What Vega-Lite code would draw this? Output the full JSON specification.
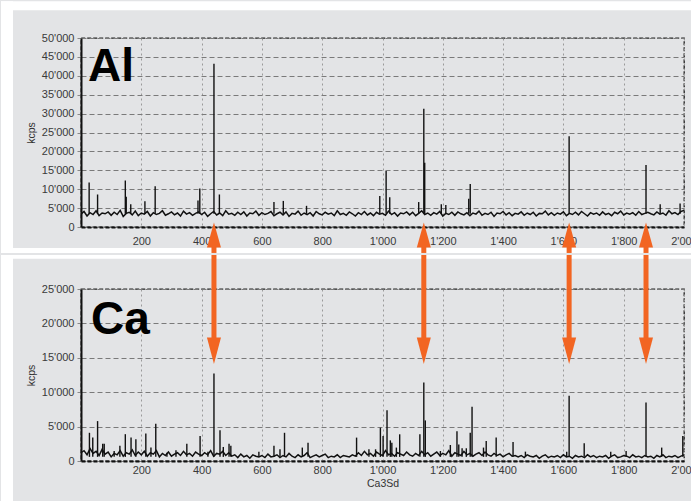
{
  "$schema": "https://vega.github.io/schema/vega-lite/v6.json",
  "padding": 0,
  "background": "#e3e4e6",
  "spacing": 0,
  "datasets": {
    "al": [
      {"x":0,"y":3400},{"x":10,"y":4100},{"x":20,"y":2900},{"x":30,"y":3800},{"x":40,"y":3300},{"x":50,"y":4300},{"x":60,"y":3000},{"x":70,"y":3700},{"x":80,"y":3500},{"x":90,"y":4000},
      {"x":100,"y":3100},{"x":110,"y":3900},{"x":120,"y":3300},{"x":130,"y":4400},{"x":140,"y":2800},{"x":150,"y":3600},{"x":160,"y":3900},{"x":170,"y":3200},{"x":180,"y":4200},{"x":190,"y":3000},
      {"x":200,"y":3700},{"x":210,"y":3400},{"x":220,"y":4100},{"x":230,"y":2900},{"x":240,"y":3800},{"x":250,"y":3300},{"x":260,"y":3600},{"x":270,"y":4300},{"x":280,"y":3100},{"x":290,"y":3500},
      {"x":300,"y":4000},{"x":310,"y":3200},{"x":320,"y":3700},{"x":330,"y":2900},{"x":340,"y":4200},{"x":350,"y":3400},{"x":360,"y":3800},{"x":370,"y":3100},{"x":380,"y":3600},{"x":390,"y":4000},
      {"x":400,"y":3300},{"x":410,"y":3900},{"x":420,"y":2800},{"x":430,"y":3500},{"x":440,"y":4100},{"x":450,"y":3200},{"x":460,"y":3700},{"x":470,"y":3000},{"x":480,"y":4300},{"x":490,"y":3400},
      {"x":500,"y":3600},{"x":510,"y":3100},{"x":520,"y":3900},{"x":530,"y":3300},{"x":540,"y":4000},{"x":550,"y":2900},{"x":560,"y":3700},{"x":570,"y":3500},{"x":580,"y":4200},{"x":590,"y":3100},
      {"x":600,"y":3800},{"x":610,"y":3300},{"x":620,"y":3600},{"x":630,"y":4100},{"x":640,"y":3000},{"x":650,"y":3500},{"x":660,"y":3900},{"x":670,"y":3200},{"x":680,"y":4000},{"x":690,"y":2800},
      {"x":700,"y":3600},{"x":710,"y":3400},{"x":720,"y":4200},{"x":730,"y":3100},{"x":740,"y":3700},{"x":750,"y":3300},{"x":760,"y":3800},{"x":770,"y":2900},{"x":780,"y":4100},{"x":790,"y":3500},
      {"x":800,"y":3200},{"x":810,"y":3900},{"x":820,"y":3400},{"x":830,"y":3700},{"x":840,"y":3000},{"x":850,"y":4300},{"x":860,"y":3300},{"x":870,"y":3600},{"x":880,"y":3100},{"x":890,"y":4000},
      {"x":900,"y":3500},{"x":910,"y":2900},{"x":920,"y":3800},{"x":930,"y":3300},{"x":940,"y":4100},{"x":950,"y":3200},{"x":960,"y":3700},{"x":970,"y":3000},{"x":980,"y":3900},{"x":990,"y":3400},
      {"x":1000,"y":3600},{"x":1010,"y":3100},{"x":1020,"y":4200},{"x":1030,"y":3300},{"x":1040,"y":3800},{"x":1050,"y":2900},{"x":1060,"y":3700},{"x":1070,"y":3500},{"x":1080,"y":4000},{"x":1090,"y":3200},
      {"x":1100,"y":3900},{"x":1110,"y":3000},{"x":1120,"y":3600},{"x":1130,"y":4300},{"x":1140,"y":3300},{"x":1150,"y":3700},{"x":1160,"y":3100},{"x":1170,"y":3800},{"x":1180,"y":3400},{"x":1190,"y":4100},
      {"x":1200,"y":2900},{"x":1210,"y":3600},{"x":1220,"y":3300},{"x":1230,"y":3900},{"x":1240,"y":3100},{"x":1250,"y":4000},{"x":1260,"y":3500},{"x":1270,"y":3200},{"x":1280,"y":3800},{"x":1290,"y":3000},
      {"x":1300,"y":3700},{"x":1310,"y":3400},{"x":1320,"y":4200},{"x":1330,"y":3100},{"x":1340,"y":3600},{"x":1350,"y":3300},{"x":1360,"y":3900},{"x":1370,"y":2800},{"x":1380,"y":3700},{"x":1390,"y":3500},
      {"x":1400,"y":4100},{"x":1410,"y":3200},{"x":1420,"y":3800},{"x":1430,"y":3000},{"x":1440,"y":3600},{"x":1450,"y":3400},{"x":1460,"y":4000},{"x":1470,"y":3100},{"x":1480,"y":3700},{"x":1490,"y":3300},
      {"x":1500,"y":3900},{"x":1510,"y":2900},{"x":1520,"y":3600},{"x":1530,"y":3500},{"x":1540,"y":4200},{"x":1550,"y":3200},{"x":1560,"y":3800},{"x":1570,"y":3100},{"x":1580,"y":3700},{"x":1590,"y":3400},
      {"x":1600,"y":4000},{"x":1610,"y":3000},{"x":1620,"y":3600},{"x":1630,"y":3300},{"x":1640,"y":3900},{"x":1650,"y":3200},{"x":1660,"y":4100},{"x":1670,"y":3500},{"x":1680,"y":2900},{"x":1690,"y":3800},
      {"x":1700,"y":3400},{"x":1710,"y":3700},{"x":1720,"y":3100},{"x":1730,"y":4000},{"x":1740,"y":3300},{"x":1750,"y":3600},{"x":1760,"y":3000},{"x":1770,"y":3900},{"x":1780,"y":3500},{"x":1790,"y":4200},
      {"x":1800,"y":3200},{"x":1810,"y":3700},{"x":1820,"y":3400},{"x":1830,"y":3800},{"x":1840,"y":3100},{"x":1850,"y":4100},{"x":1860,"y":3300},{"x":1870,"y":3600},{"x":1880,"y":3900},{"x":1890,"y":3500},
      {"x":1900,"y":3200},{"x":1910,"y":4000},{"x":1920,"y":3400},{"x":1930,"y":3700},{"x":1940,"y":3100},{"x":1950,"y":4300},{"x":1960,"y":3500},{"x":1970,"y":3800},{"x":1980,"y":3300},{"x":1990,"y":4100},
      {"x":2000,"y":4400}
    ],
    "ca": [
      {"x":0,"y":1200},{"x":10,"y":1500},{"x":20,"y":900},{"x":30,"y":1800},{"x":40,"y":1100},{"x":50,"y":1400},{"x":60,"y":800},{"x":70,"y":1700},{"x":80,"y":1000},{"x":90,"y":1300},
      {"x":100,"y":600},{"x":110,"y":1100},{"x":120,"y":900},{"x":130,"y":1500},{"x":140,"y":700},{"x":150,"y":1200},{"x":160,"y":1000},{"x":170,"y":1600},{"x":180,"y":800},{"x":190,"y":1300},
      {"x":200,"y":900},{"x":210,"y":1400},{"x":220,"y":700},{"x":230,"y":1200},{"x":240,"y":1000},{"x":250,"y":1500},{"x":260,"y":600},{"x":270,"y":1100},{"x":280,"y":800},{"x":290,"y":1300},
      {"x":300,"y":700},{"x":310,"y":1000},{"x":320,"y":1200},{"x":330,"y":800},{"x":340,"y":1400},{"x":350,"y":900},{"x":360,"y":1100},{"x":370,"y":700},{"x":380,"y":1300},{"x":390,"y":1000},
      {"x":400,"y":800},{"x":410,"y":1200},{"x":420,"y":900},{"x":430,"y":1500},{"x":440,"y":700},{"x":450,"y":1100},{"x":460,"y":1000},{"x":470,"y":1400},{"x":480,"y":800},{"x":490,"y":1200},
      {"x":500,"y":700},{"x":510,"y":900},{"x":520,"y":500},{"x":530,"y":1000},{"x":540,"y":600},{"x":550,"y":800},{"x":560,"y":400},{"x":570,"y":900},{"x":580,"y":700},{"x":590,"y":600},
      {"x":600,"y":800},{"x":610,"y":500},{"x":620,"y":1000},{"x":630,"y":600},{"x":640,"y":700},{"x":650,"y":900},{"x":660,"y":500},{"x":670,"y":800},{"x":680,"y":600},{"x":690,"y":1100},
      {"x":700,"y":700},{"x":710,"y":500},{"x":720,"y":900},{"x":730,"y":600},{"x":740,"y":800},{"x":750,"y":1200},{"x":760,"y":500},{"x":770,"y":700},{"x":780,"y":900},{"x":790,"y":600},
      {"x":800,"y":800},{"x":810,"y":1000},{"x":820,"y":500},{"x":830,"y":700},{"x":840,"y":600},{"x":850,"y":900},{"x":860,"y":500},{"x":870,"y":800},{"x":880,"y":700},{"x":890,"y":600},
      {"x":900,"y":900},{"x":910,"y":700},{"x":920,"y":1200},{"x":930,"y":800},{"x":940,"y":1400},{"x":950,"y":900},{"x":960,"y":1100},{"x":970,"y":700},{"x":980,"y":1300},{"x":990,"y":1000},
      {"x":1000,"y":800},{"x":1010,"y":1500},{"x":1020,"y":900},{"x":1030,"y":1100},{"x":1040,"y":700},{"x":1050,"y":1200},{"x":1060,"y":1000},{"x":1070,"y":800},{"x":1080,"y":1300},{"x":1090,"y":900},
      {"x":1100,"y":700},{"x":1110,"y":1100},{"x":1120,"y":800},{"x":1130,"y":1400},{"x":1140,"y":900},{"x":1150,"y":1200},{"x":1160,"y":700},{"x":1170,"y":1000},{"x":1180,"y":1300},{"x":1190,"y":800},
      {"x":1200,"y":1100},{"x":1210,"y":900},{"x":1220,"y":1500},{"x":1230,"y":700},{"x":1240,"y":1200},{"x":1250,"y":1000},{"x":1260,"y":800},{"x":1270,"y":1400},{"x":1280,"y":900},{"x":1290,"y":1100},
      {"x":1300,"y":700},{"x":1310,"y":1000},{"x":1320,"y":1200},{"x":1330,"y":800},{"x":1340,"y":1300},{"x":1350,"y":900},{"x":1360,"y":700},{"x":1370,"y":1100},{"x":1380,"y":800},{"x":1390,"y":1000},
      {"x":1400,"y":600},{"x":1410,"y":900},{"x":1420,"y":1100},{"x":1430,"y":700},{"x":1440,"y":800},{"x":1450,"y":600},{"x":1460,"y":800},{"x":1470,"y":500},{"x":1480,"y":900},{"x":1490,"y":700},
      {"x":1500,"y":600},{"x":1510,"y":800},{"x":1520,"y":400},{"x":1530,"y":700},{"x":1540,"y":900},{"x":1550,"y":500},{"x":1560,"y":700},{"x":1570,"y":600},{"x":1580,"y":800},{"x":1590,"y":500},
      {"x":1600,"y":900},{"x":1610,"y":600},{"x":1620,"y":700},{"x":1630,"y":400},{"x":1640,"y":800},{"x":1650,"y":600},{"x":1660,"y":700},{"x":1670,"y":500},{"x":1680,"y":900},{"x":1690,"y":600},
      {"x":1700,"y":800},{"x":1710,"y":500},{"x":1720,"y":700},{"x":1730,"y":600},{"x":1740,"y":800},{"x":1750,"y":400},{"x":1760,"y":700},{"x":1770,"y":900},{"x":1780,"y":500},{"x":1790,"y":600},
      {"x":1800,"y":800},{"x":1810,"y":700},{"x":1820,"y":500},{"x":1830,"y":900},{"x":1840,"y":600},{"x":1850,"y":700},{"x":1860,"y":500},{"x":1870,"y":800},{"x":1880,"y":600},{"x":1890,"y":700},
      {"x":1900,"y":400},{"x":1910,"y":800},{"x":1920,"y":600},{"x":1930,"y":900},{"x":1940,"y":500},{"x":1950,"y":700},{"x":1960,"y":600},{"x":1970,"y":800},{"x":1980,"y":500},{"x":1990,"y":700},
      {"x":2000,"y":900}
    ],
    "alpk": [
      {"x":27,"y":11800},{"x":55,"y":8600},{"x":147,"y":12300},{"x":150,"y":8000},{"x":165,"y":6000},{"x":212,"y":6800},{"x":246,"y":10800},{"x":388,"y":7000},{"x":394,"y":10200},{"x":441,"y":43200},{"x":459,"y":8600},{"x":640,"y":6600},{"x":671,"y":6900},{"x":748,"y":5600},{"x":991,"y":8200},{"x":1012,"y":14800},{"x":1024,"y":7900},{"x":1120,"y":6600},{"x":1137,"y":31300},{"x":1140,"y":17000},{"x":1195,"y":6000},{"x":1210,"y":5800},{"x":1286,"y":7500},{"x":1291,"y":11400},{"x":1619,"y":24000},{"x":1874,"y":16400},{"x":1921,"y":6000},{"x":1987,"y":6200}
    ],
    "capk": [
      {"x":28,"y":4100},{"x":39,"y":3400},{"x":55,"y":5800},{"x":72,"y":2500},{"x":77,"y":2500},{"x":110,"y":1450},{"x":129,"y":2200},{"x":147,"y":3900},{"x":166,"y":3400},{"x":182,"y":3150},{"x":215,"y":4000},{"x":232,"y":1950},{"x":248,"y":5400},{"x":285,"y":1200},{"x":315,"y":1550},{"x":351,"y":2500},{"x":395,"y":3650},{"x":421,"y":1360},{"x":441,"y":12700},{"x":461,"y":4470},{"x":472,"y":2040},{"x":491,"y":2500},{"x":497,"y":2200},{"x":590,"y":1360},{"x":640,"y":2200},{"x":660,"y":1700},{"x":675,"y":4100},{"x":734,"y":1950},{"x":753,"y":2670},
      {"x":914,"y":3400},{"x":955,"y":1700},{"x":977,"y":1700},{"x":993,"y":4850},{"x":1002,"y":3650},{"x":1015,"y":7380},{"x":1026,"y":3000},{"x":1031,"y":2670},{"x":1046,"y":1950},{"x":1057,"y":3880},{"x":1124,"y":3880},{"x":1137,"y":11400},{"x":1142,"y":5900},{"x":1192,"y":1450},{"x":1225,"y":2330},{"x":1247,"y":4320},{"x":1253,"y":2400},{"x":1264,"y":1850},{"x":1278,"y":1850},{"x":1291,"y":4100},{"x":1297,"y":7900},{"x":1335,"y":1950},{"x":1344,"y":2900},{"x":1377,"y":3400},{"x":1433,"y":2770},{"x":1474,"y":1360},{"x":1611,"y":1360},{"x":1619,"y":9470},{"x":1669,"y":2570},{"x":1757,"y":1360},{"x":1808,"y":1450},{"x":1874,"y":8500},{"x":1926,"y":1950},{"x":1996,"y":3640}
    ],
    "arrows": [{"x":441},{"x":1137},{"x":1619},{"x":1874}]
  },
  "vconcat": [
    {
      "width": 603,
      "height": 189,
      "layer": [
        {
          "data": {"values": [{}]},
          "mark": {"type": "rect", "color": "#ffffff", "opacity": 1},
          "encoding": {
            "x": {"datum": -265.3, "type": "quantitative", "scale": {"domain": [0, 2000], "nice": false, "zero": false, "padding": 0},
                  "axis": {"values": [200,400,600,800,1000,1200,1400,1600,1800,2000], "title": null, "labelOverlap": false, "labelExpr": "replace(format(datum.value, ','), ',', \"'\")"}},
            "x2": {"datum": 2026.5},
            "y": {"datum": 57310, "type": "quantitative", "scale": {"domain": [0, 50000], "nice": false, "padding": 0},
                  "axis": {"values": [0,5000,10000,15000,20000,25000,30000,35000,40000,45000,50000], "tickCount": 11, "title": "kcps", "labelOverlap": false, "ticks": true, "tickSize": 4, "tickColor": "#888888", "labelPadding": 3, "labelExpr": "replace(format(datum.value, ','), ',', \"'\")"}},
            "y2": {"datum": 59690}
          }
        },
        {
          "data": {"values": [{}]},
          "mark": {"type": "rect", "color": "#ffffff", "opacity": 1},
          "encoding": {
            "x": {"datum": -265.3, "type": "quantitative"},
            "x2": {"datum": -225.5},
            "y": {"datum": -6867, "type": "quantitative"},
            "y2": {"datum": 59690}
          }
        },
        {
          "data": {"values": [{}]},
          "mark": {"type": "rect", "color": "#ffffff", "opacity": 1},
          "encoding": {
            "x": {"datum": -265.3, "type": "quantitative"},
            "x2": {"datum": 2026.5},
            "y": {"datum": -6867, "type": "quantitative"},
            "y2": {"datum": -5546}
          }
        },
        {
          "data": {"name": "al"},
          "mark": {"type": "line", "color": "#111111", "strokeWidth": 1.5},
          "encoding": {
            "x": {"field": "x", "type": "quantitative"},
            "y": {"field": "y", "type": "quantitative"}
          }
        },
        {
          "data": {"name": "alpk"},
          "mark": {"type": "rule", "color": "#111111", "strokeWidth": 1.4},
          "encoding": {
            "x": {"field": "x", "type": "quantitative"},
            "y": {"field": "y", "type": "quantitative"},
            "y2": {"datum": 3500}
          }
        },
        {
          "data": {"values": [{}]},
          "mark": {"type": "text", "text": "Al", "font": "Liberation Sans", "fontSize": 46, "fontWeight": "bold", "align": "left", "baseline": "alphabetic", "color": "#000000"},
          "encoding": {
            "x": {"datum": 23, "type": "quantitative"},
            "y": {"datum": 38560, "type": "quantitative"}
          }
        },
        {
          "data": {"name": "arrows"},
          "mark": {"type": "bar", "color": "#f26522", "size": 5, "opacity": 1},
          "encoding": {
            "x": {"field": "x", "type": "quantitative"},
            "y": {"datum": -2113, "type": "quantitative"},
            "y2": {"datum": -6867}
          }
        },
        {
          "data": {"name": "arrows"},
          "mark": {"type": "point", "shape": "M0,-1L0.56,1L-0.56,1Z", "size": 625, "filled": true, "opacity": 1, "color": "#f26522"},
          "encoding": {
            "x": {"field": "x", "type": "quantitative"},
            "y": {"datum": -2113, "type": "quantitative"}
          }
        }
      ]
    },
    {
      "width": 603,
      "height": 172,
      "layer": [
        {
          "data": {"values": [{}]},
          "mark": {"type": "rect", "color": "#ffffff", "opacity": 1},
          "encoding": {
            "x": {"datum": -265.3, "type": "quantitative", "scale": {"domain": [0, 2000], "nice": false, "zero": false, "padding": 0},
                  "axis": {"values": [200,400,600,800,1000,1200,1400,1600,1800,2000], "title": "Ca3Sd", "labelPadding": 3, "titlePadding": 3, "labelOverlap": false, "labelExpr": "replace(format(datum.value, ','), ',', \"'\")"}},
            "x2": {"datum": 2026.5},
            "y": {"datum": 29411, "type": "quantitative", "scale": {"domain": [0, 25000], "nice": false, "padding": 0},
                  "axis": {"values": [0,5000,10000,15000,20000,25000], "tickCount": 6, "title": "kcps", "labelOverlap": false, "ticks": true, "tickSize": 4, "tickColor": "#888888", "labelPadding": 3, "labelExpr": "replace(format(datum.value, ','), ',', \"'\")"}},
            "y2": {"datum": 29942}
          }
        },
        {
          "data": {"values": [{}]},
          "mark": {"type": "rect", "color": "#ffffff", "opacity": 1},
          "encoding": {
            "x": {"datum": -265.3, "type": "quantitative"},
            "x2": {"datum": -225.5},
            "y": {"datum": -5970, "type": "quantitative"},
            "y2": {"datum": 29942}
          }
        },
        {
          "data": {"name": "ca"},
          "mark": {"type": "line", "color": "#111111", "strokeWidth": 1.5},
          "encoding": {
            "x": {"field": "x", "type": "quantitative"},
            "y": {"field": "y", "type": "quantitative"}
          }
        },
        {
          "data": {"name": "capk"},
          "mark": {"type": "rule", "color": "#111111", "strokeWidth": 1.4},
          "encoding": {
            "x": {"field": "x", "type": "quantitative"},
            "y": {"field": "y", "type": "quantitative"},
            "y2": {"datum": 600}
          }
        },
        {
          "data": {"values": [{}]},
          "mark": {"type": "text", "text": "Ca", "font": "Liberation Sans", "fontSize": 46, "fontWeight": "bold", "align": "left", "baseline": "alphabetic", "color": "#000000"},
          "encoding": {
            "x": {"datum": 33, "type": "quantitative"},
            "y": {"datum": 18490, "type": "quantitative"}
          }
        },
        {
          "data": {"name": "arrows"},
          "mark": {"type": "bar", "color": "#f26522", "size": 5, "opacity": 1},
          "encoding": {
            "x": {"field": "x", "type": "quantitative"},
            "y": {"datum": 29942, "type": "quantitative"},
            "y2": {"datum": 16016}
          }
        },
        {
          "data": {"name": "arrows"},
          "mark": {"type": "point", "shape": "M0,1L0.53,-1L-0.53,-1Z", "size": 702, "filled": true, "opacity": 1, "color": "#f26522"},
          "encoding": {
            "x": {"field": "x", "type": "quantitative"},
            "y": {"datum": 16016, "type": "quantitative"}
          }
        }
      ]
    }
  ],
  "config": {
    "view": {"stroke": "#222222", "strokeDash": [4, 2], "strokeWidth": 1.3},
    "scale": {"continuousPadding": 0},
    "axis": {
      "labelFont": "Liberation Sans",
      "labelFontSize": 11,
      "labelColor": "#3a3a3a",
      "labelOverlap": false,
      "titleFont": "Liberation Sans",
      "titleFontSize": 10.5,
      "titleFontWeight": "normal",
      "titleColor": "#333333",
      "ticks": false,
      "domainColor": "#111111",
      "domainWidth": 2,
      "grid": true
    },
    "axisX": {"domainDash": [4, 2], "gridDash": [2, 3], "gridColor": "#9a9a9a", "gridWidth": 1, "labelPadding": 8, "labelFlush": false, "titlePadding": 3},
    "axisY": {"gridDash": [5, 3], "gridColor": "#7a7a7a", "gridWidth": 1, "labelPadding": 3, "titlePadding": 5}
  }
}
